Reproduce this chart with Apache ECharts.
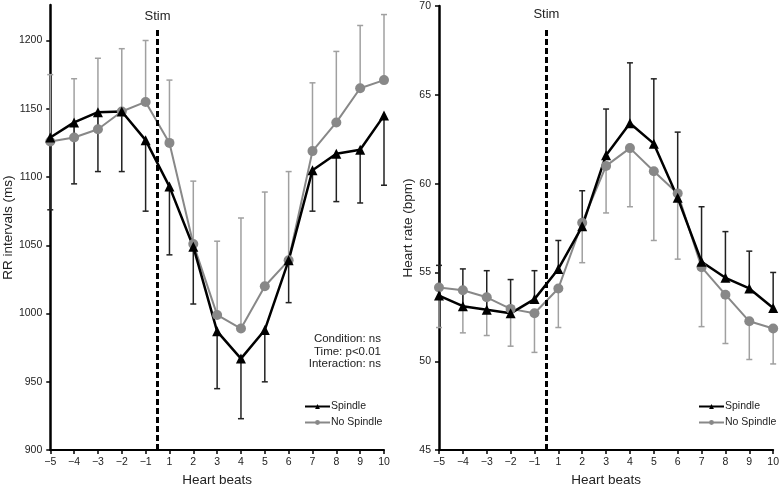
<!DOCTYPE html>
<html>
<head>
<meta charset="utf-8">
<script src="https://cdn.jsdelivr.net/npm/echarts@6/dist/echarts.min.js"></script>
<style>html,body{margin:0;padding:0;background:#fff;}#c{width:782px;height:492px;}</style>
</head>
<body>
<div id="c"></div>
<script>
// Heart beat categories (no beat 0)
const beats = [-5, -4, -3, -2, -1, 1, 2, 3, 4, 5, 6, 7, 8, 9, 10];

// Left panel: RR intervals (ms)
const rrSpindle       = [1129, 1140, 1147.5, 1148, 1127, 1093, 1049, 987, 967, 988, 1039, 1105, 1117, 1120, 1145];
const rrSpindleLow    = [1076, 1095, 1104, 1104, 1075, 1043, 1007, 945, 923, 950, 1008, 1075, 1082, 1081, 1094];
const rrNoSpindle     = [1126, 1129, 1135, 1148, 1155, 1125, 1051, 999, 989, 1020, 1039, 1119, 1140, 1165, 1171];
const rrNoSpindleHigh = [1175, 1172, 1187, 1194, 1200, 1171, 1097, 1053, 1070, 1089, 1104, 1169, 1192, 1211, 1219];

// Right panel: Heart rate (bpm)
const hrSpindle       = [53.7, 53.1, 52.9, 52.7, 53.5, 55.2, 57.6, 61.6, 63.4, 62.25, 59.2, 55.6, 54.7, 54.1, 53.0];
const hrSpindleHigh   = [55.4, 55.2, 55.1, 54.6, 55.1, 56.8, 59.6, 64.2, 66.8, 65.9, 62.9, 58.7, 57.3, 56.2, 55.0];
const hrNoSpindle     = [54.15, 54.0, 53.6, 52.95, 52.7, 54.1, 57.8, 61.0, 62.0, 60.7, 59.45, 55.3, 53.75, 52.25, 51.85];
const hrNoSpindleLow  = [51.9, 51.6, 51.45, 50.85, 50.5, 51.9, 55.55, 58.35, 58.7, 56.8, 55.75, 51.95, 51.0, 50.1, 49.85];

const rrTicks = [900, 950, 1000, 1050, 1100, 1150, 1200];
const hrTicks = [45, 50, 55, 60, 65, 70];
const stimPos = 4.5; // between beat -1 and beat 1

const FONT = "'Liberation Sans', Arial, Helvetica, sans-serif";
const BLACK = '#000';
const GRAY = '#888';

function pairs(vals) { return vals.map((v, i) => [i, v]); }
function errData(center, end) { return center.map((v, i) => [i, v, end[i]]); }

function errSeries(idx, data, color) {
  return {
    type: 'custom', xAxisIndex: idx, yAxisIndex: idx, z: 1, silent: true,
    encode: { x: 0, y: [1, 2] },
    data: data,
    renderItem: function (params, api) {
      const p0 = api.coord([api.value(0), api.value(1)]);
      const p1 = api.coord([api.value(0), api.value(2)]);
      const hw = 3;
      return {
        type: 'group',
        children: [
          { type: 'line', shape: { x1: p0[0], y1: p0[1], x2: p1[0], y2: p1[1] }, style: { stroke: color, lineWidth: 1.5 } },
          { type: 'line', shape: { x1: p1[0] - hw, y1: p1[1], x2: p1[0] + hw, y2: p1[1] }, style: { stroke: color, lineWidth: 1.5 } }
        ]
      };
    }
  };
}

function stimLine(yMin, yMax) {
  return {
    silent: true, symbol: 'none',
    lineStyle: { type: [6, 3], width: 3, color: BLACK },
    label: { show: true, formatter: 'Stim', position: 'end', distance: 6, color: '#222', fontSize: 13, fontFamily: FONT },
    data: [[{ coord: [stimPos, yMin] }, { coord: [stimPos, yMax] }]]
  };
}

function xAxisCfg(idx) {
  return {
    type: 'value', gridIndex: idx, min: 0, max: beats.length - 1, interval: 1,
    name: 'Heart beats', nameLocation: 'middle', nameGap: 19,
    nameTextStyle: { fontSize: 13.5, color: '#222', fontFamily: FONT },
    axisLine: { show: true, lineStyle: { color: BLACK, width: 2 } },
    axisTick: { show: true, length: 4, lineStyle: { color: BLACK, width: 1.5 } },
    axisLabel: { fontSize: 10.5, color: '#222', fontFamily: FONT, margin: 7,
      formatter: v => String(beats[v]).replace('-', '\u2212') },
    splitLine: { show: false }
  };
}

function yAxisCfg(idx, name, min, max, ticks, gap) {
  return {
    type: 'value', gridIndex: idx, min: min, max: max,
    name: name, nameLocation: 'middle', nameGap: gap, nameRotate: 90,
    nameTextStyle: { fontSize: 13.5, color: '#222', fontFamily: FONT },
    axisLine: { show: true, lineStyle: { color: BLACK, width: 2.5 } },
    axisTick: { show: true, length: 4, customValues: ticks, lineStyle: { color: BLACK, width: 1.5 } },
    axisLabel: { fontSize: 10.5, color: '#222', fontFamily: FONT, margin: 8, customValues: ticks,
      formatter: v => String(v) },
    splitLine: { show: false }
  };
}

function lineSeries(idx, name, vals, color, width, symbol, size, mark) {
  const s = {
    type: 'line', name: name, xAxisIndex: idx, yAxisIndex: idx, z: 3,
    data: pairs(vals), symbol: symbol, symbolSize: size,
    lineStyle: { color: color, width: width },
    itemStyle: { color: color }
  };
  if (mark) s.markLine = mark;
  return s;
}

const legendCfg = (left) => ({
  orient: 'vertical', left: left, top: 401, padding: 0, itemGap: 5, itemWidth: 25, itemHeight: 6,
  textStyle: { fontSize: 10.5, color: '#222', fontFamily: FONT, padding: [0, 0, 0, -4] },
  data: ['Spindle', 'No Spindle']
});

const option = {
  animation: false,
  backgroundColor: '#fff',
  textStyle: { fontFamily: FONT },
  grid: [
    { left: 49, right: 398, top: 5, bottom: 40 },
    { left: 439, right: 6, top: 6, bottom: 39 }
  ],
  xAxis: [xAxisCfg(0), xAxisCfg(1)],
  yAxis: [
    yAxisCfg(0, 'RR intervals (ms)', 900, 1226, rrTicks, 31),
    yAxisCfg(1, 'Heart rate (bpm)', 45, 70, hrTicks, 23)
  ],
  legend: [legendCfg(304), legendCfg(698)],
  graphic: [
    { type: 'text', x: 381, y: 333, z: 10,
      style: { text: 'Condition: ns\nTime: p<0.01\nInteraction: ns', align: 'right', verticalAlign: 'top', fill: '#222',
        font: '11.5px ' + FONT, lineHeight: 12.5 } }
  ],
  series: [
    errSeries(0, errData(rrNoSpindle, rrNoSpindleHigh), '#a0a0a0'),
    errSeries(0, errData(rrSpindle, rrSpindleLow), '#222'),
    lineSeries(0, 'No Spindle', rrNoSpindle, GRAY, 2, 'circle', 10),
    lineSeries(0, 'Spindle', rrSpindle, BLACK, 2.5, 'triangle', 10, stimLine(900, 1208.5)),
    errSeries(1, errData(hrNoSpindle, hrNoSpindleLow), '#a0a0a0'),
    errSeries(1, errData(hrSpindle, hrSpindleHigh), '#222'),
    lineSeries(1, 'No Spindle', hrNoSpindle, GRAY, 2, 'circle', 10),
    lineSeries(1, 'Spindle', hrSpindle, BLACK, 2.5, 'triangle', 10, stimLine(45, 68.8))
  ]
};

const chart = echarts.init(document.getElementById('c'), null, { renderer: 'canvas' });
chart.setOption(option);
</script>
</body>
</html>
